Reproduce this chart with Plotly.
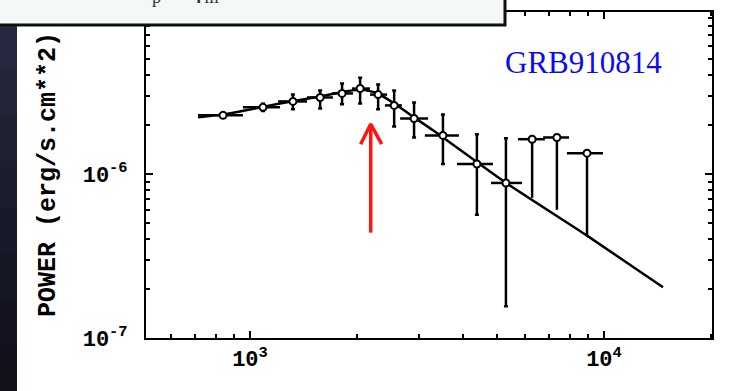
import plotly.graph_objects as go

# Measured spectral points (energy in keV-scale units, power in erg/s/cm^2)
energy = [839, 1088, 1322, 1578, 1820, 2047, 2301, 2554, 2907, 3508, 4375, 5284]
power = [2.28e-6, 2.55e-6, 2.77e-6, 2.93e-6, 3.10e-6, 3.32e-6, 3.05e-6, 2.62e-6,
         2.18e-6, 1.72e-6, 1.15e-6, 8.82e-7]
energy_lo = [713, 955, 1200, 1449, 1706, 1942, 2183, 2405, 2655, 3119, 3843, 4795]
energy_hi = [955, 1216, 1449, 1715, 1954, 2183, 2439, 2686, 3185, 3892, 4856, 5866]
power_lo = [2.20e-6, 2.42e-6, 2.48e-6, 2.51e-6, 2.66e-6, 2.69e-6, 2.48e-6, 1.95e-6,
            1.67e-6, 1.15e-6, 5.65e-7, 1.56e-7]
power_hi = [2.36e-6, 2.68e-6, 3.05e-6, 3.23e-6, 3.56e-6, 3.87e-6, 3.51e-6, 3.23e-6,
            2.73e-6, 2.31e-6, 1.75e-6, 1.65e-6]

# Upper limits at high energy
ul_energy = [6266, 7362, 8954]
ul_power = [1.63e-6, 1.67e-6, 1.34e-6]
ul_energy_lo = [5714, 6730, 7858]
ul_energy_hi = [6808, 7966, 9935]
ul_power_lo = [7.16e-7, 6.05e-7, 4.21e-7]

# Fitted broken power-law model
model_energy = [713, 839, 1000, 1215, 1577, 1855, 2072, 2299, 2653, 2906, 3288,
                5287, 8954, 14680]
model_power = [2.215e-6, 2.31e-6, 2.477e-6, 2.693e-6, 2.970e-6, 3.184e-6, 3.274e-6,
               3.097e-6, 2.547e-6, 2.215e-6, 1.848e-6, 8.82e-7, 4.21e-7, 2.04e-7]

# Peak-energy marker (arrow)
peak_energy = 2193
arrow_tip = 2.017e-6
arrow_tail = 4.39e-7
arrow_head_x = [2054, 2355]
arrow_head_y = 1.52e-6

x_ticks = [1e3, 1e4]
x_ticktext = ["10<sup>3</sup>", "10<sup>4</sup>"]
y_ticks = [1e-7, 1e-6]
y_ticktext = ["10<sup>-7</sup>", "10<sup>-6</sup>"]

fig = go.Figure()

fig.add_trace(go.Scatter(
    x=model_energy, y=model_power, mode="lines",
    line=dict(color="black", width=2.5, shape="spline", smoothing=0.5),
    hoverinfo="skip", showlegend=False))

fig.add_trace(go.Scatter(
    x=energy, y=power, mode="markers",
    marker=dict(symbol="circle", size=7, color="white", line=dict(width=2, color="black")),
    error_x=dict(type="data", symmetric=False,
                 array=[h - e for h, e in zip(energy_hi, energy)],
                 arrayminus=[e - l for e, l in zip(energy, energy_lo)],
                 color="black", thickness=2.5, width=0),
    error_y=dict(type="data", symmetric=False,
                 array=[h - p for h, p in zip(power_hi, power)],
                 arrayminus=[p - l for p, l in zip(power, power_lo)],
                 color="black", thickness=2.5, width=2),
    showlegend=False))

fig.add_trace(go.Scatter(
    x=ul_energy, y=ul_power, mode="markers",
    marker=dict(symbol="circle", size=7, color="white", line=dict(width=2, color="black")),
    error_x=dict(type="data", symmetric=False,
                 array=[h - e for h, e in zip(ul_energy_hi, ul_energy)],
                 arrayminus=[e - l for e, l in zip(ul_energy, ul_energy_lo)],
                 color="black", thickness=2.5, width=0),
    error_y=dict(type="data", symmetric=False,
                 array=[0] * len(ul_power),
                 arrayminus=[p - l for p, l in zip(ul_power, ul_power_lo)],
                 color="black", thickness=2.5, width=0),
    showlegend=False))

# Red arrow marking the peak
fig.add_trace(go.Scatter(
    x=[peak_energy, peak_energy], y=[arrow_tail, arrow_tip], mode="lines",
    line=dict(color="#ff1414", width=3.5), hoverinfo="skip", showlegend=False))
fig.add_trace(go.Scatter(
    x=[arrow_head_x[0], peak_energy, arrow_head_x[1]],
    y=[arrow_head_y, arrow_tip, arrow_head_y], mode="lines",
    line=dict(color="#ff1414", width=3.5), hoverinfo="skip", showlegend=False))

W, H = 734, 391
L, R, T, B = 146, 712, 10, 338


def px(xp):
    return (xp - L) / (R - L)


def py(yp):
    return (B - yp) / (B - T)


shapes = []
# dark strip along the left edge
strip_cols = ["#25283e", "#222538", "#1f2133", "#1c1e2e", "#191a29", "#161724",
              "#13141f", "#10111a"]
n = len(strip_cols)
for i, c in enumerate(strip_cols):
    y0 = 22 + (H - 22) * i / n
    y1 = 22 + (H - 22) * (i + 1) / n + 1
    shapes.append(dict(type="rect", xref="paper", yref="paper",
                       x0=px(-2), x1=px(17), y0=py(y1), y1=py(y0),
                       fillcolor=c, line=dict(width=0), layer="above"))
# caption box at the top
shapes.append(dict(type="rect", xref="paper", yref="paper",
                   x0=px(-10), x1=px(505), y0=py(23), y1=py(-10),
                   fillcolor="#f5f9f5", line=dict(color="#111", width=3), layer="above"))

tick_font = dict(family="Liberation Mono", size=22, color="black", weight="bold")
axis_common = dict(
    showline=True, linewidth=2, linecolor="black", mirror="allticks",
    ticks="inside", ticklen=7, tickwidth=1.5, tickcolor="black",
    showgrid=False, zeroline=False,
    minor=dict(ticks="inside", ticklen=4, tickwidth=1.5, tickcolor="black",
               dtick="D1", showgrid=False),
)

fig.update_xaxes(type="log", range=[2.7062, 4.3051], tickvals=x_ticks,
                 ticktext=x_ticktext, ticklabelstandoff=0, **axis_common)
fig.update_yaxes(type="log", range=[-7, -5.0121], tickvals=y_ticks,
                 ticktext=y_ticktext, ticklabelstandoff=12, **axis_common)
fig.update_xaxes(tickfont=tick_font)
fig.update_yaxes(tickfont=tick_font)

annotations = [
    dict(text="GRB910814", xref="paper", yref="paper", x=px(583), y=py(61),
         xanchor="center", yanchor="middle", showarrow=False,
         font=dict(family="Liberation Serif", size=31, color="#0b0bf2")),
    dict(text="POWER (erg/s.cm**2)", xref="paper", yref="paper", x=px(48), y=py(174),
         xanchor="center", yanchor="middle", textangle=-90, showarrow=False,
         font=dict(family="Liberation Mono", size=25, color="black", weight="bold")),
    dict(text="ε<sub>p</sub> ∝ γ<sub>m</sub>", xref="paper", yref="paper",
         x=px(180), y=py(7), xanchor="center", yanchor="bottom", showarrow=False,
         font=dict(family="Liberation Serif", size=26, color="#333")),
]

fig.update_layout(
    width=W, height=H,
    margin=dict(l=L, r=W - R, t=T, b=H - B),
    paper_bgcolor="white", plot_bgcolor="white",
    shapes=shapes, annotations=annotations,
)

fig.write_html("out.html")
